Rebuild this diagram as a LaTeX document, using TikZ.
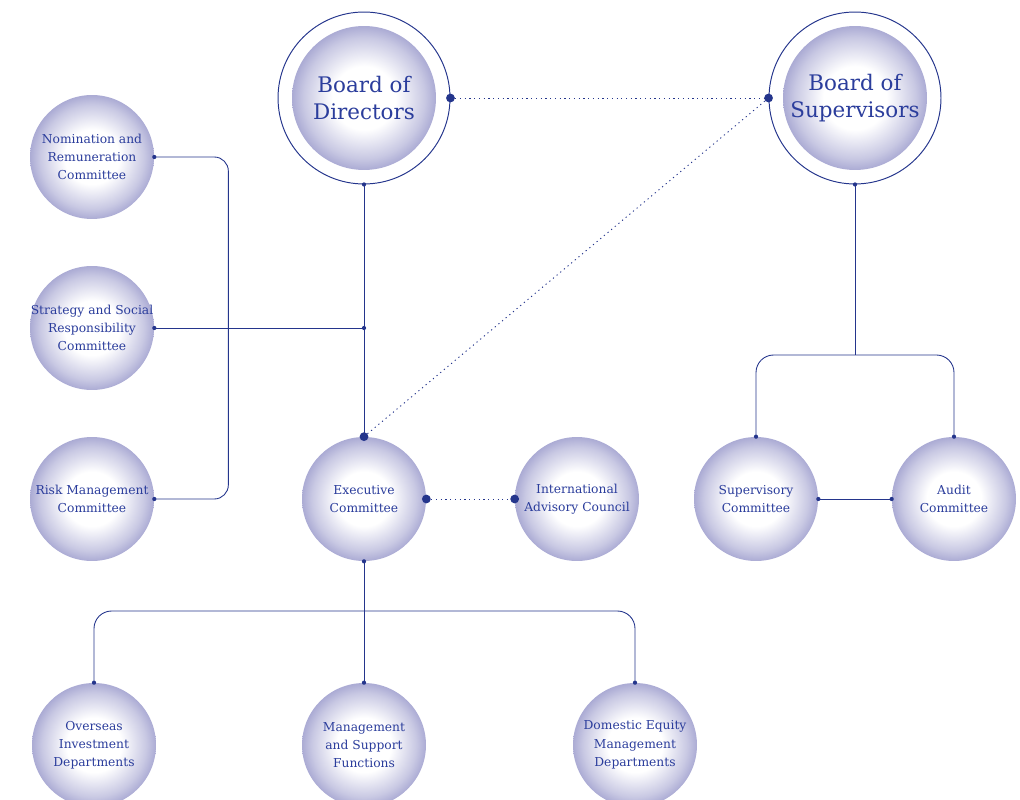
\documentclass[tikz,border=0pt]{standalone}
\usepackage{fontspec}
\setmainfont{DejaVu Serif}
\usepackage{xcolor}
\definecolor{lav}{HTML}{ABABD4}
\definecolor{navy}{HTML}{24358C}
\definecolor{ink}{HTML}{2B3D9C}
\pgfdeclareradialshading{bubble}{\pgfpoint{0bp}{0bp}}{color(0bp)=(white); color(11bp)=(white); color(21bp)=(lav!65); color(25bp)=(lav); color(50bp)=(lav)}

\begin{document}
\begin{tikzpicture}[x=0.02cm, y=-0.02cm,
    bubble/.style={circle, minimum size=2.48cm, inner sep=-12pt, shading=bubble, align=center, text=ink, font=\fontsize{7}{10.4}\selectfont},
    board/.style={bubble, minimum size=2.88cm, font=\fontsize{12.2}{15.3}\selectfont},
    ring/.style={circle, draw=navy, line width=0.55pt, minimum size=3.44cm, inner sep=0pt},
    link/.style={draw=navy, line width=0.5pt},
    dots/.style={link, dash pattern=on 0.7pt off 2pt},
    dot/.style={fill=navy}]
  \useasboundingbox (0,0) rectangle (1020,800);

  % Boards
  \node[ring] (bodring) at (364,98) {};
  \node[board] (bod) at (364,98) {Board of\\Directors};
  \node[ring] (bosring) at (855,98) {};
  \node[board] (bos) at (855,98) {Board of\\Supervisors};

  % Committees of the board
  \node[bubble] (nom) at (92,157) {Nomination and\\Remuneration\\Committee};
  \node[bubble] (strat) at (92,328) {Strategy and Social\\Responsibility\\Committee};
  \node[bubble] (risk) at (92,499) {Risk Management\\Committee};

  % Executive level
  \node[bubble] (exec) at (364,499) {Executive\\Committee};
  \node[bubble] (intl) at (577,499) {International\\Advisory Council};

  % Supervisory side
  \node[bubble] (sup) at (756,499) {Supervisory\\Committee};
  \node[bubble] (aud) at (954,499) {Audit\\Committee};

  % Departments
  \node[bubble] (over) at (94,745) {Overseas\\Investment\\Departments};
  \node[bubble] (mgmt) at (364,745) {Management\\and Support\\Functions};
  \node[bubble] (dom) at (635,745) {Domestic Equity\\Management\\Departments};

  % Bus points
  \coordinate (junc) at (strat.east -| exec.north);
  \coordinate (ebus) at (364,611);
  \coordinate (sbus) at (855,355);

  % Solid links
  \draw[link, rounded corners=8pt] (nom.east) -- ++(74,0) |- (risk.east);
  \draw[link] (strat.east) -- (junc);
  \draw[link] (bodring.south) -- (exec.north);
  \draw[link] (exec.south) -- (mgmt.north);
  \draw[link, rounded corners=10pt] (over.north) |- (ebus) -| (dom.north);
  \draw[link] (bosring.south) -- (sbus);
  \draw[link, rounded corners=10pt] (sup.north) |- (sbus) -| (aud.north);
  \draw[link] (sup.east) -- (aud.west);

  % Dotted links
  \draw[dots] (bodring.east) -- (bosring.west);
  \draw[dots] (bosring.west) -- (exec.north);
  \draw[dots] (exec.east) -- (intl.west);

  % Small dots
  \foreach \p in {nom.east, risk.east, strat.east, junc, bodring.south, exec.south,
                  over.north, mgmt.north, dom.north, bosring.south, sup.north,
                  aud.north, sup.east, aud.west}
    \fill[dot] (\p) circle (1.2pt);

  % Big dots
  \foreach \p in {bodring.east, bosring.west, exec.north, exec.east, intl.west}
    \fill[dot] (\p) circle (2.5pt);
\end{tikzpicture}
\end{document}
